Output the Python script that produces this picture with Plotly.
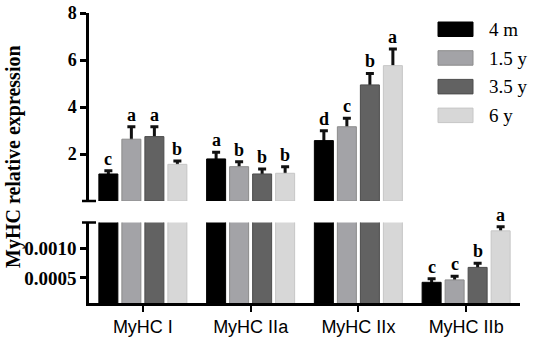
import plotly.graph_objects as go

# ---------------- data ----------------
groups = ["MyHC I", "MyHC IIa", "MyHC IIx", "MyHC IIb"]
ages = ["4 m", "1.5 y", "3.5 y", "6 y"]

mean_4m = [1.15, 1.79, 2.57, 0.000427]
mean_1_5y = [2.63, 1.46, 3.16, 0.000467]
mean_3_5y = [2.74, 1.15, 4.94, 0.000677]
mean_6y = [1.56, 1.18, 5.76, 0.00129]

err_4m = [0.14, 0.28, 0.42, 0.00006]
err_1_5y = [0.53, 0.21, 0.36, 0.00006]
err_3_5y = [0.42, 0.21, 0.49, 0.00007]
err_6y = [0.14, 0.28, 0.71, 0.00007]

letters_4m = ["c", "a", "d", "c"]
letters_1_5y = ["a", "b", "c", "c"]
letters_3_5y = ["a", "b", "b", "b"]
letters_6y = ["b", "b", "a", "a"]

top_ticks = [2, 4, 6, 8]
low_ticks = [0.0005, 0.0010]
low_tick_text = ["0.0005", "0.0010"]

# ---------------- style ----------------
means = [mean_4m, mean_1_5y, mean_3_5y, mean_6y]
errs = [err_4m, err_1_5y, err_3_5y, err_6y]
letters = [letters_4m, letters_1_5y, letters_3_5y, letters_6y]
fills = ["#000000", "#a3a3a7", "#626262", "#d7d7d7"]
edges = ["#000000", "#8c8c8c", "#4c4c4c", "#c6c6c6"]

SPLIT = 0.01          # values below this live on the lower (broken) axis
TOP_RANGE = [0, 8]
LOW_RANGE = [0.00008, 0.00143]

W, H = 536, 338
ML, MR, MT, MB = 89, 16, 13, 35
PW, PH = W - ML - MR, H - MT - MB


def pxx(p):
    return (p - ML) / PW


def pxy(p):
    return (H - MB - p) / PH


serif = "Liberation Serif"
sans = "Liberation Sans"

fig = go.Figure()
panels = [("x", "y", False), ("x2", "y2", True)]

# error bars first (on transparent bars), so the real bars hide the lower half
for xa, ya, is_top in panels:
    for j in range(4):
        vals = means[j]
        er = errs[j]
        if is_top:
            yv = [v if v >= SPLIT else None for v in vals]
            ev = [e if v >= SPLIT else 0 for v, e in zip(vals, er)]
        else:
            yv, ev = vals, er
        fig.add_trace(go.Bar(
            x=groups, y=yv, xaxis=xa, yaxis=ya, offsetgroup=str(j),
            marker=dict(color="rgba(0,0,0,0)", line=dict(width=0)),
            error_y=dict(type="data", array=ev, symmetric=True,
                         thickness=3, width=4, color="#111111"),
            showlegend=False, hoverinfo="skip",
        ))
for xa, ya, is_top in panels:
    for j in range(4):
        vals = means[j]
        yv = [v if v >= SPLIT else None for v in vals] if is_top else vals
        fig.add_trace(go.Bar(
            x=groups, y=yv, name=ages[j], xaxis=xa, yaxis=ya, offsetgroup=str(j),
            marker=dict(color=fills[j], line=dict(color=edges[j], width=1)),
            showlegend=False,
        ))

annotations = []
slot = 23
for j in range(4):
    for i, g in enumerate(groups):
        v = means[j][i] + errs[j][i]
        annotations.append(dict(
            x=g, y=v, xref="x", yref="y2" if means[j][i] >= SPLIT else "y",
            text="<b>%s</b>" % letters[j][i], showarrow=False,
            xshift=(j - 1.5) * slot, yshift=0, yanchor="bottom",
            font=dict(family=serif, size=18, color="black"),
        ))

# y-axis title
annotations.append(dict(
    x=pxx(13), y=pxy(157), xref="paper", yref="paper", textangle=-90,
    text="<b>MyHC relative expression</b>", showarrow=False,
    xanchor="center", yanchor="middle",
    font=dict(family=serif, size=20, color="black"),
))

shapes = []
# legend (boxes + labels)
for k, name in enumerate(ages):
    y0 = 22 + k * 28.7
    shapes.append(dict(type="rect", xref="paper", yref="paper",
                       x0=pxx(438), x1=pxx(473), y0=pxy(y0), y1=pxy(y0 + 14.5),
                       fillcolor=fills[k], line=dict(color=edges[k], width=1)))
    annotations.append(dict(
        x=pxx(487), y=pxy(y0 + 7.5), xref="paper", yref="paper", text=name,
        showarrow=False, xanchor="left", yanchor="middle",
        font=dict(family=serif, size=19, color="black"),
    ))

# axis-break marks
shapes.append(dict(type="line", xref="paper", yref="y2 domain",
                   x0=pxx(82), x1=pxx(96), y0=0, y1=0,
                   line=dict(color="black", width=2.5)))
shapes.append(dict(type="line", xref="paper", yref="y domain",
                   x0=pxx(82), x1=pxx(96), y0=1, y1=1,
                   line=dict(color="black", width=2.5)))

top_dom = [pxy(201), 1.0]
low_dom = [0.0, pxy(222.5)]

fig.update_layout(
    width=W, height=H, autosize=False,
    margin=dict(l=ML, r=MR, t=MT, b=MB, pad=0, autoexpand=False),
    paper_bgcolor="white", plot_bgcolor="white",
    barmode="group", bargap=0.146, bargroupgap=0.174,
    showlegend=False,
    xaxis=dict(anchor="y", domain=[0, 1], showline=True, linecolor="black", linewidth=2.5,
               ticks="outside", ticklen=6, tickwidth=2, tickcolor="black",
               tickfont=dict(family=sans, size=18, color="black"),
               showgrid=False, zeroline=False, automargin=False),
    xaxis2=dict(anchor="y2", matches="x", domain=[0, 1], visible=False, showgrid=False),
    yaxis=dict(domain=low_dom, range=LOW_RANGE, showline=True, linecolor="black",
               linewidth=2.5, ticks="outside", ticklen=6, tickwidth=2.5,
               tickcolor="black", tickvals=low_ticks, ticktext=low_tick_text,
               tickfont=dict(family=serif, size=19, color="black", weight="bold"),
               showgrid=False, zeroline=False, automargin=False),
    yaxis2=dict(domain=top_dom, range=TOP_RANGE, showline=True, linecolor="black",
                linewidth=2.5, ticks="outside", ticklen=6, tickwidth=2.5,
                tickcolor="black", tickvals=top_ticks,
                tickfont=dict(family=serif, size=18, color="black", weight="bold"),
                showgrid=False, zeroline=False, automargin=False),
    annotations=annotations,
    shapes=shapes,
)

fig.write_html("out.html", config={"displayModeBar": False},
               post_script="document.body.style.margin='0';")
